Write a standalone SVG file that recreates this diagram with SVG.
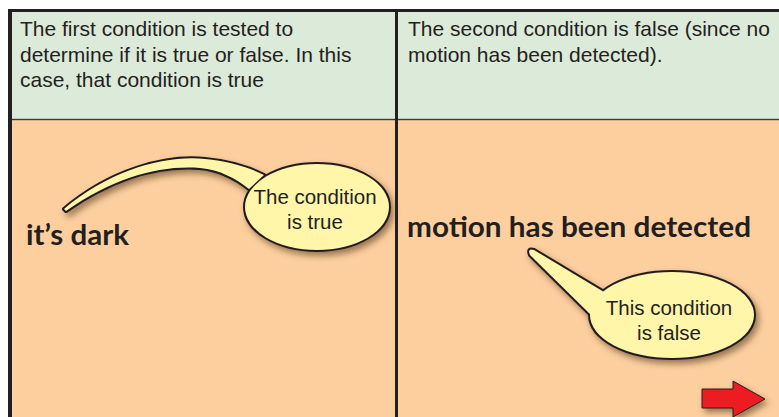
<svg xmlns="http://www.w3.org/2000/svg" width="779" height="417" viewBox="0 0 779 417">
<style>
.hdr{font-family:"Liberation Sans",Arial,sans-serif;font-size:21px;fill:#231F20}
.big{font-family:Lato,"Open Sans",sans-serif;font-weight:700;font-size:28px;fill:#231F20}
.bub{font-family:"Liberation Sans",Arial,sans-serif;font-size:20.5px;fill:#231F20;text-anchor:middle}
.outline{stroke:#231F20;stroke-width:4;fill:#231F20;stroke-linejoin:round}
.fill{fill:#FFF6AA;stroke:none}
</style>
<defs>
<filter id="sh" x="-20%" y="-20%" width="150%" height="160%">
<feDropShadow dx="3" dy="4" stdDeviation="3" flood-color="#4a2e10" flood-opacity="0.55"/>
</filter>
</defs>
<g id="background">
<rect x="12" y="12" width="767" height="107" fill="#DCEAD9"/>
<rect x="12" y="120" width="767" height="297" fill="#FDCF9F"/>
<rect x="8" y="9" width="771" height="3" fill="#231F20"/>
<rect x="8" y="9" width="4" height="408" fill="#231F20"/>
<rect x="12" y="118.8" width="767" height="1.4" fill="#3a3a3a"/>
<rect x="395" y="12" width="3" height="405" fill="#231F20"/>
</g>
<g id="header-left">
<text class="hdr" x="20" y="36">The first condition is tested to</text>
<text class="hdr" x="20" y="61.5">determine if it is true or false. In this</text>
<text class="hdr" x="20" y="87">case, that condition is true</text>
</g>
<g id="header-right">
<text class="hdr" x="408" y="36">The second condition is false (since no</text>
<text class="hdr" x="408" y="61.5">motion has been detected).</text>
</g>
<g id="cond1">
<text class="big" x="26" y="245" textLength="103" lengthAdjust="spacingAndGlyphs">it’s dark</text>
</g>
<g id="cond2">
<text class="big" x="407" y="237" textLength="344" lengthAdjust="spacingAndGlyphs">motion has been detected</text>
</g>
<g id="connectors">
<g filter="url(#sh)">
<path class="outline" d="M64,209 C110,170 165,155 205,159 C228,161 248,167 264,175 L249,189 C235,178 220,170 200,168 C160,165 115,177 66,211 Z"/>
<path class="outline" d="M604,292 L534,250 Q527,248 530,255 L594,318 Z"/>
</g>
</g>
<g id="callout1">
<ellipse class="outline" cx="317" cy="207" rx="72" ry="43" filter="url(#sh)"/>
<path class="fill" d="M64,209 C110,170 165,155 205,159 C228,161 248,167 264,175 L249,189 C235,178 220,170 200,168 C160,165 115,177 66,211 Z"/>
<ellipse class="fill" cx="317" cy="207" rx="72" ry="43"/>
<text class="bub" x="315" y="204">The condition</text>
<text class="bub" x="315" y="229">is true</text>
</g>
<g id="callout2">
<ellipse class="outline" cx="672" cy="315" rx="82" ry="43" filter="url(#sh)"/>
<path class="fill" d="M604,292 L534,250 Q527,248 530,255 L594,318 Z"/>
<ellipse class="fill" cx="672" cy="315" rx="82" ry="43"/>
<text class="bub" x="669" y="315">This condition</text>
<text class="bub" x="669" y="340">is false</text>
</g>
<g id="next-arrow">
<path d="M702,389 L733,389 L733,381 L765,399 L733,417 L733,408 L702,408 Z" fill="#ED1C24" stroke="#231F20" stroke-width="1" filter="url(#sh)"/>
</g>
</svg>
